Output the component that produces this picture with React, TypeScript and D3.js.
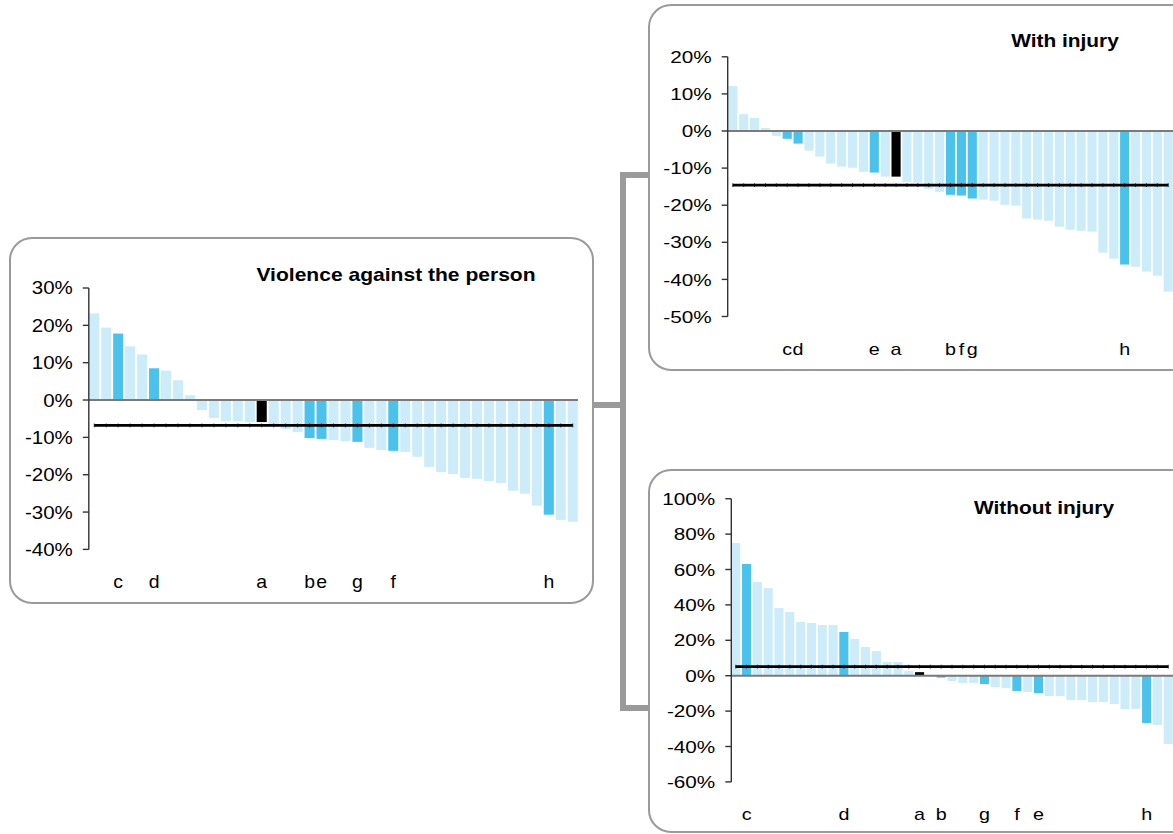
import React from "react";
import * as d3 from "d3";

// ---------- DATA ----------
const violenceValues = [23.2, 19.4, 17.8, 14.4, 12.2, 8.5, 7.9, 5.3, 1.3, -2.7, -4.8, -5.6, -5.6, -5.9, -5.9, -6.6, -7.8, -8.6, -10.2, -10.4, -10.7, -11.0, -11.2, -12.8, -13.4, -13.6, -13.9, -15.2, -17.9, -19.3, -19.8, -20.9, -21.1, -21.7, -22.2, -24.3, -25.1, -28.3, -30.7, -32.1, -32.6];
const violenceLetters = ["c", "d", "a", "b", "e", "g", "f", "h"];
const violenceLetterBars = [3, 6, 15, 19, 20, 23, 26, 39];
const violenceAverage = -6.8;
const violenceTicks = [30, 20, 10, 0, -10, -20, -30, -40];

const withInjuryValues = [12.1, 4.6, 3.5, 0.8, -1.3, -2.1, -3.4, -5.3, -6.9, -8.8, -9.6, -9.9, -11.0, -11.2, -12.3, -12.3, -13.7, -13.9, -15.6, -16.4, -17.2, -17.4, -18.2, -18.5, -18.8, -19.9, -20.1, -23.6, -23.9, -24.2, -25.8, -26.6, -26.9, -27.1, -32.8, -34.4, -36.0, -36.6, -37.9, -39.0, -43.3];
const withInjuryLetters = ["c", "d", "e", "a", "b", "f", "g", "h"];
const withInjuryLetterBars = [6, 7, 14, 16, 21, 22, 23, 37];
const withInjuryAverage = -14.6;
const withInjuryTicks = [20, 10, 0, -10, -20, -30, -40, -50];

const withoutInjuryValues = [75.0, 63.1, 52.9, 49.5, 38.2, 36.0, 30.3, 29.8, 28.6, 28.6, 24.7, 20.7, 16.2, 13.9, 7.7, 7.7, 2.6, 2.0, -0.3, -1.1, -3.0, -4.1, -4.1, -4.7, -6.4, -6.9, -8.6, -9.2, -9.8, -11.5, -11.5, -13.8, -13.8, -14.9, -14.9, -16.0, -18.8, -18.8, -26.7, -27.9, -38.6];
const withoutInjuryLetters = ["c", "d", "a", "b", "g", "f", "e", "h"];
const withoutInjuryLetterBars = [2, 11, 18, 20, 24, 27, 29, 39];
const withoutInjuryAverage = 5.1;
const withoutInjuryTicks = [100, 80, 60, 40, 20, 0, -20, -40, -60];

const titles = ["Violence against the person", "With injury", "Without injury"];

// ---------- STYLE ----------
const LIGHT = "#CCECF9";
const DARK = "#4AC2EC";
const BLACK = "#000000";
const BOX = "#9a9a9a";
const FONT = "'Liberation Sans', Arial, Helvetica, sans-serif";

type PanelProps = {
  values: number[];
  letters: string[];
  letterBars: number[];
  average: number;
  ticks: number[];
  title: string;
  box: { x: number; y: number; w: number; h: number };
  xRange: [number, number];
  yRange: [number, number];
  axisX: number;
  titleX: number;
  titleY: number;
  labelY: number;
  sx: number;
  titleSx: number;
  tsx: number;
  fontSize: number;
};

function Panel(p: PanelProps) {
  const idx = p.values.map((_, i) => i + 1);
  const x = d3.scaleBand<number>().domain(idx).range(p.xRange).paddingInner(0.16).paddingOuter(0.02);
  const yDomain = d3.extent(p.ticks) as [number, number];
  const y = d3.scaleLinear().domain(yDomain).range(p.yRange);
  const blackBar = p.letterBars[p.letters.indexOf("a")];
  const colorOf = (i: number) =>
    i === blackBar ? BLACK : p.letterBars.includes(i) ? DARK : LIGHT;
  const bw = x.bandwidth();
  const first = (x(1) as number) + bw / 2;
  const last = (x(idx.length) as number) + bw / 2;
  const y0 = y(0);
  const ya = y(p.average);
  return (
    <g>
      <rect x={p.box.x} y={p.box.y} width={p.box.w} height={p.box.h} rx={22} ry={22}
        fill="#fff" stroke={BOX} strokeWidth={2} />
      {p.values.map((v, i) => (
        <rect key={i} x={x(i + 1)} y={Math.min(y(v), y0)} width={bw}
          height={Math.abs(y(v) - y0)} fill={colorOf(i + 1)} />
      ))}
      <line x1={p.axisX} x2={p.xRange[1]} y1={y0} y2={y0} stroke="#7a7a7a" strokeWidth={2} />
      <line x1={first} x2={last} y1={ya} y2={ya} stroke="#000" strokeWidth={2.6} />
      {idx.map((i) => (
        <line key={i} x1={(x(i) as number) + bw / 2} x2={(x(i) as number) + bw / 2}
          y1={ya - 1.9} y2={ya + 1.9} stroke="#000" strokeWidth={0.8} />
      ))}
      <line x1={p.axisX} x2={p.axisX} y1={y(yDomain[1])} y2={y(yDomain[0])} stroke="#333" strokeWidth={1.4} />
      {p.ticks.map((t) => (
        <g key={t}>
          <line x1={p.axisX - 6} x2={p.axisX} y1={y(t)} y2={y(t)} stroke="#333" strokeWidth={1.4} />
          <text transform={`translate(${p.axisX - 16},${y(t)}) scale(${p.tsx},1)`} textAnchor="end"
            dy="0.36em" fontSize={p.fontSize} fontFamily={FONT} fill="#000">{`${t}%`}</text>
        </g>
      ))}
      {p.letters.map((l, k) => (
        <text key={k} transform={`translate(${(x(p.letterBars[k]) as number) + bw / 2},${p.labelY}) scale(${p.sx},1)`}
          textAnchor="middle" fontSize={p.fontSize} fontFamily={FONT} fill="#000">{l}</text>
      ))}
      <text transform={`translate(${p.titleX},${p.titleY}) scale(${p.titleSx},1)`} textAnchor="middle"
        fontSize={18} fontWeight="bold" fontFamily={FONT} fill="#000">{p.title}</text>
    </g>
  );
}

export default function App() {
  return (
    <svg width={1173} height={834} style={{ position: "absolute", left: 0, top: 0, background: "#fff" }}>
      {/* connector bracket */}
      <path d="M593,405 H623 M623,172 V711 M623,175 H649 M623,708 H649" fill="none" stroke={BOX} strokeWidth={6} />
      <Panel values={violenceValues} letters={violenceLetters} letterBars={violenceLetterBars}
        average={violenceAverage} ticks={violenceTicks} title={titles[0]}
        box={{ x: 10, y: 238, w: 583, h: 365 }} xRange={[89, 578]} yRange={[549.4, 288]} axisX={88.8}
        titleX={396} titleY={281} labelY={588} sx={1.08} titleSx={1.17} tsx={1.14} fontSize={18} />
      <Panel values={withInjuryValues} letters={withInjuryLetters} letterBars={withInjuryLetterBars}
        average={withInjuryAverage} ticks={withInjuryTicks} title={titles[1]}
        box={{ x: 649, y: 5, w: 545, h: 365 }} xRange={[728, 1173]} yRange={[316.5, 56.8]} axisX={727.7}
        titleX={1065} titleY={47} labelY={355} sx={1.16} titleSx={1.16} tsx={1.22} fontSize={17} />
      <Panel values={withoutInjuryValues} letters={withoutInjuryLetters} letterBars={withoutInjuryLetterBars}
        average={withoutInjuryAverage} ticks={withoutInjuryTicks} title={titles[2]}
        box={{ x: 649, y: 470, w: 545, h: 362 }} xRange={[731, 1173]} yRange={[781.9, 498.7]} axisX={731.3}
        titleX={1044} titleY={514} labelY={820} sx={1.16} titleSx={1.16} tsx={1.22} fontSize={17} />
    </svg>
  );
}
